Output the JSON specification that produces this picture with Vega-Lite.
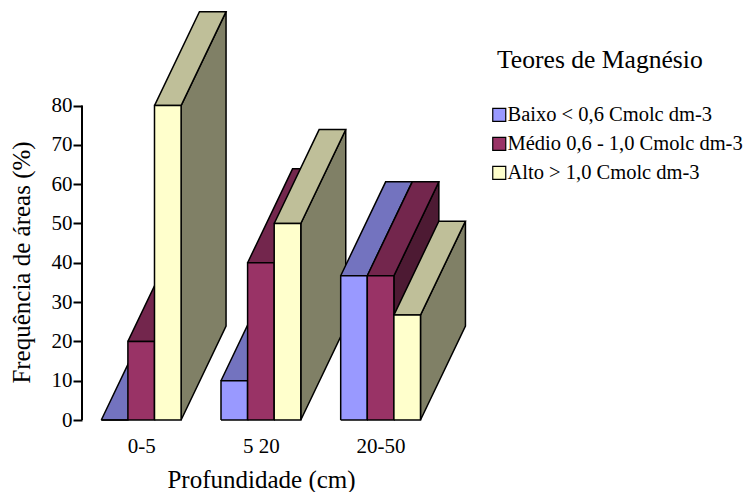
{
  "$schema": "https://vega.github.io/schema/vega-lite/v6.json",
  "width": 663,
  "height": 409,
  "autosize": {"type": "none"},
  "padding": {"left": 82, "top": 11, "right": 0, "bottom": 72},
  "background": "white",
  "config": {
    "view": {"stroke": null},
    "font": "Liberation Serif",
    "axis": {"labelFont": "Liberation Serif", "titleFont": "Liberation Serif", "labelColor": "black", "titleColor": "black", "titleFontWeight": "normal", "grid": false},
    "legend": {"labelFont": "Liberation Serif", "titleFont": "Liberation Serif", "labelColor": "black", "titleColor": "black", "titleFontWeight": "normal"}
  },
  "layer": [
    {
      "data": {
        "values": [
          {"profundidade": "0-5", "teor": "Baixo < 0,6 Cmolc dm-3", "valor": 0},
          {"profundidade": "0-5", "teor": "Médio 0,6 - 1,0 Cmolc dm-3", "valor": 20},
          {"profundidade": "0-5", "teor": "Alto > 1,0 Cmolc dm-3", "valor": 80},
          {"profundidade": "5 20", "teor": "Baixo < 0,6 Cmolc dm-3", "valor": 10},
          {"profundidade": "5 20", "teor": "Médio 0,6 - 1,0 Cmolc dm-3", "valor": 40},
          {"profundidade": "5 20", "teor": "Alto > 1,0 Cmolc dm-3", "valor": 50},
          {"profundidade": "20-50", "teor": "Baixo < 0,6 Cmolc dm-3", "valor": 36.7},
          {"profundidade": "20-50", "teor": "Médio 0,6 - 1,0 Cmolc dm-3", "valor": 36.7},
          {"profundidade": "20-50", "teor": "Alto > 1,0 Cmolc dm-3", "valor": 26.7}
        ]
      },
      "transform": [
        {"calculate": "indexof(['0-5','5 20','20-50'], datum.profundidade) * 4.5 + indexof(['Baixo','Médio','Alto'], split(datum.teor,' ')[0])", "as": "x0"},
        {"calculate": "['lado','topo','frente']", "as": "face"},
        {"flatten": ["face"]},
        {"calculate": "[0,1,2,3,4]", "as": "v"},
        {"flatten": ["v"]},
        {"calculate": "datum.teor + '|' + datum.face", "as": "chave"},
        {"calculate": "datum.profundidade + '|' + datum.chave", "as": "poligono"},
        {"calculate": "datum.x0 + ({frente:[0,1,1,0,0],topo:[0,1,2.69,1.69,0],lado:[1,2.69,2.69,1,1]})[datum.face][datum.v]", "as": "px"},
        {"calculate": "datum.valor * ({frente:[0,0,1,1,0],topo:[1,1,1,1,1],lado:[0,0,1,1,0]})[datum.face][datum.v] + 23.9 * ({frente:[0,0,0,0,0],topo:[0,0,1,1,0],lado:[0,1,1,0,0]})[datum.face][datum.v]", "as": "py"}
      ],
      "mark": {"type": "line", "stroke": "black", "strokeWidth": 1.5, "strokeJoin": "miter", "interpolate": "linear"},
      "encoding": {
        "x": {
          "field": "px", "type": "quantitative",
          "scale": {"domain": [-0.7256, 24.2], "nice": false, "zero": false},
          "axis": {
            "values": [1.5, 6, 10.5],
            "labelExpr": "datum.value == 1.5 ? '0-5' : datum.value == 6 ? '5 20' : '20-50'",
            "domain": false, "ticks": false, "labelFontSize": 21, "labelPadding": 15,
            "title": "Profundidade (cm)", "titleFontSize": 25, "titleX": 179, "titleY": 67, "titleBaseline": "alphabetic", "titleAlign": "center"
          }
        },
        "y": {
          "field": "py", "type": "quantitative",
          "scale": {"domain": [0, 104.07], "nice": false},
          "axis": {
            "values": [0, 10, 20, 30, 40, 50, 60, 70, 80],
            "domain": false, "tickSize": 9, "tickWidth": 2, "tickColor": "black", "labelFontSize": 21, "labelPadding": 1,
            "title": "Frequência de áreas (%)", "titleFontSize": 25, "titleX": -53, "titleY": 251, "titleBaseline": "alphabetic", "titleAlign": "center"
          }
        },
        "detail": {"field": "poligono"},
        "order": {"field": "v", "type": "quantitative"},
        "fill": {
          "field": "chave", "type": "nominal",
          "scale": {
            "domain": [
              "Baixo < 0,6 Cmolc dm-3|frente", "Baixo < 0,6 Cmolc dm-3|topo", "Baixo < 0,6 Cmolc dm-3|lado",
              "Médio 0,6 - 1,0 Cmolc dm-3|frente", "Médio 0,6 - 1,0 Cmolc dm-3|topo", "Médio 0,6 - 1,0 Cmolc dm-3|lado",
              "Alto > 1,0 Cmolc dm-3|frente", "Alto > 1,0 Cmolc dm-3|topo", "Alto > 1,0 Cmolc dm-3|lado"
            ],
            "range": ["#9999ff", "#7373bf", "#4d4d80", "#993366", "#73264d", "#4d1a33", "#ffffcc", "#bfbf99", "#808066"]
          },
          "legend": {
            "values": ["Baixo < 0,6 Cmolc dm-3|frente", "Médio 0,6 - 1,0 Cmolc dm-3|frente", "Alto > 1,0 Cmolc dm-3|frente"],
            "labelExpr": "split(datum.label,'|')[0]",
            "title": "Teores de Magnésio",
            "orient": "none", "legendX": 415, "legendY": 37,
            "titleFontSize": 25.6, "titlePadding": 31, "labelFontSize": 20.5, "labelOffset": -2,
            "symbolType": "square", "symbolSize": 169, "symbolStrokeColor": "black", "symbolStrokeWidth": 1.2, "symbolOpacity": 1,
            "symbolOffset": -8, "rowPadding": 8, "padding": 0, "labelLimit": 400, "titleLimit": 400
          }
        }
      }
    },
    {
      "data": {"values": [{"inicio": 0, "fim": 80}]},
      "mark": {"type": "rule", "stroke": "black", "strokeWidth": 2},
      "encoding": {
        "x": {"datum": -0.7256, "type": "quantitative"},
        "y": {"field": "inicio", "type": "quantitative"},
        "y2": {"field": "fim"}
      }
    }
  ]
}
